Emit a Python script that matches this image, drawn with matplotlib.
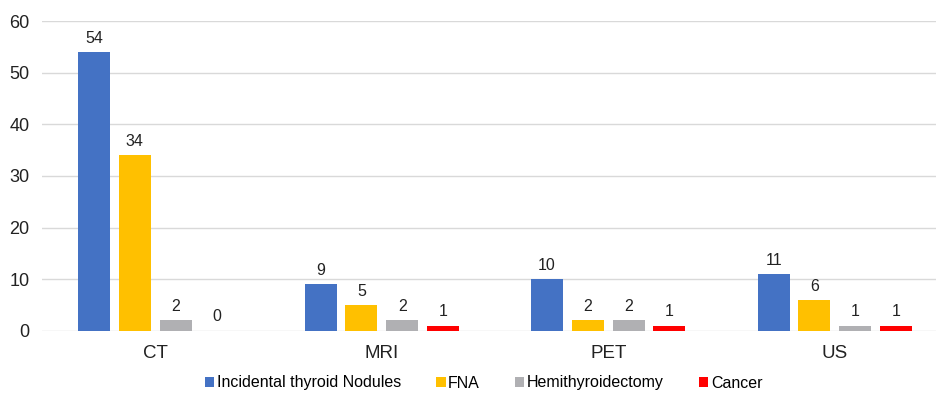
import matplotlib

matplotlib.use("Agg")
import matplotlib.pyplot as plt
import numpy as np

categories = ["CT", "MRI", "PET", "US"]
series_names = ["Incidental thyroid Nodules", "FNA", "Hemithyroidectomy", "Cancer"]
nodules = [54, 9, 10, 11]
fna = [34, 5, 2, 6]
hemi = [2, 2, 2, 1]
cancer = [0, 1, 1, 1]
colors = ["#4472C4", "#FFC000", "#B0B0B3", "#FF0000"]
yticks = [0, 10, 20, 30, 40, 50, 60]

plt.rcParams["font.family"] = ["Liberation Sans", "DejaVu Sans"]

fig = plt.figure(figsize=(9.37, 3.93), dpi=100)
ax = fig.add_axes([42 / 937, 62.3 / 393, 906 / 937, 309.4 / 393])

x = np.arange(len(categories))
width = 0.141
pitch = 0.180
values = [nodules, fna, hemi, cancer]
for i, (name, vals, col) in enumerate(zip(series_names, values, colors)):
    pos = x + (i - 1.5) * pitch
    bars = ax.bar(pos, vals, width, color=col, label=name, zorder=3)
    for b, v in zip(bars, vals):
        ax.annotate(str(v), (b.get_x() + b.get_width() / 2, v),
                    xytext=(0, 4.5), textcoords="offset points",
                    ha="center", va="bottom", fontsize=11.5, color="#222222")

ax.set_xlim(-0.5, 3.5)
ax.set_ylim(0, 60)
ax.set_yticks(yticks)
ax.set_xticks(x)
ax.set_xticklabels(categories, fontsize=13.5, color="#222222")
ax.tick_params(axis="y", labelsize=13, colors="#222222", length=0, pad=9)
ax.tick_params(axis="x", length=0, pad=10)
ax.grid(axis="y", color="#D9D9D9", linewidth=1, zorder=0)
for s in ax.spines.values():
    s.set_visible(False)

fig.legend(loc="center", bbox_to_anchor=(483.5 / 937, 1 - 383 / 393), ncol=4,
           frameon=False, fontsize=11.5, handlelength=0.6, handleheight=0.6,
           handletextpad=0.15, columnspacing=2.2)

fig.savefig("out.png", dpi=100)
plt.close(fig)
